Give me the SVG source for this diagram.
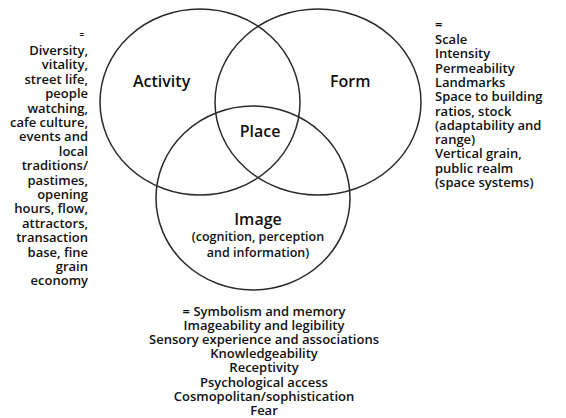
<svg xmlns="http://www.w3.org/2000/svg" width="566" height="418" viewBox="0 0 566 418">
<style>
.c{fill:none;stroke:#2a2a2a;stroke-width:1.5}
text{font-family:"Open Sans","Liberation Sans",sans-serif;font-weight:600;fill:#111}
.big{font-size:16px}
.sm{font-size:13px}
.mid{font-size:12.5px}
</style>
<rect width="566" height="418" fill="#fff"/>
<g id="connectors"></g>
<g id="activity">
<ellipse class="c" cx="200" cy="102" rx="100" ry="93"/>
<text class="big" x="133" y="87">Activity</text>
</g>
<g id="form">
<ellipse class="c" cx="318" cy="102" rx="103" ry="93"/>
<text class="big" x="330" y="87">Form</text>
</g>
<g id="image">
<ellipse class="c" cx="253" cy="198" rx="97" ry="92"/>
<text class="big" x="258" y="225" text-anchor="middle">Image</text>
<text class="mid" x="258" y="241" text-anchor="middle">(cognition, perception</text>
<text class="mid" x="258" y="257" text-anchor="middle">and information)</text>
</g>
<g id="place">
<text class="big" x="260" y="137" text-anchor="middle">Place</text>
</g>
<g id="activity-list" class="sm" text-anchor="end">
<text x="84" y="38" font-size="8">=</text>
<text x="88" y="55">Diversity,</text>
<text x="88" y="69.4">vitality,</text>
<text x="88" y="83.8">street life,</text>
<text x="88" y="98.2">people</text>
<text x="88" y="112.6">watching,</text>
<text x="88" y="127">cafe culture,</text>
<text x="88" y="141.4">events and</text>
<text x="88" y="155.8">local</text>
<text x="88" y="170.2">traditions/</text>
<text x="88" y="184.6">pastimes,</text>
<text x="88" y="199">opening</text>
<text x="88" y="213.4">hours, flow,</text>
<text x="88" y="227.8">attractors,</text>
<text x="88" y="242.2">transaction</text>
<text x="88" y="256.6">base, fine</text>
<text x="88" y="271">grain</text>
<text x="88" y="285.4">economy</text>
</g>
<g id="form-list" class="sm">
<text x="435" y="29">=</text>
<text x="435" y="44">Scale</text>
<text x="435" y="58.3">Intensity</text>
<text x="435" y="72.6">Permeability</text>
<text x="435" y="86.9">Landmarks</text>
<text x="435" y="101.2">Space to building</text>
<text x="435" y="115.5">ratios, stock</text>
<text x="435" y="129.8">(adaptability and</text>
<text x="435" y="144.1">range)</text>
<text x="435" y="158.4">Vertical grain,</text>
<text x="435" y="172.7">public realm</text>
<text x="435" y="187">(space systems)</text>
</g>
<g id="image-list" class="sm" text-anchor="middle">
<text x="264" y="316">= Symbolism and memory</text>
<text x="264" y="330.1">Imageability and legibility</text>
<text x="264" y="344.2">Sensory experience and associations</text>
<text x="264" y="358.3">Knowledgeability</text>
<text x="264" y="372.4">Receptivity</text>
<text x="264" y="386.5">Psychological access</text>
<text x="264" y="400.6">Cosmopolitan/sophistication</text>
<text x="264" y="414.7">Fear</text>
</g>
</svg>
